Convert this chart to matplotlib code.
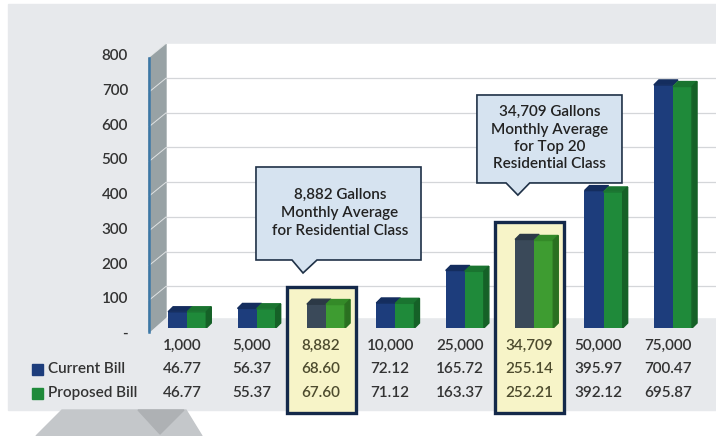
import numpy as np
import matplotlib.pyplot as plt
from matplotlib.patches import Rectangle, Polygon
from matplotlib.transforms import offset_copy

plt.rcParams["font.family"] = ["Lato", "DejaVu Sans"]
plt.rcParams["font.weight"] = "semibold"

# usage tiers (gallons) and monthly bills
gallons = ["1,000", "5,000", "8,882", "10,000", "25,000", "34,709", "50,000", "75,000"]
current_bill = [46.77, 56.37, 68.60, 72.12, 165.72, 255.14, 395.97, 700.47]
proposed_bill = [46.77, 55.37, 67.60, 71.12, 163.37, 252.21, 392.12, 695.87]
y_ticks = [0, 100, 200, 300, 400, 500, 600, 700, 800]
y_tick_labels = ["-", "100", "200", "300", "400", "500", "600", "700", "800"]
highlight = [2, 5]
callout_1 = "8,882 Gallons\nMonthly Average\nfor Residential Class"
callout_2 = "34,709 Gallons\nMonthly Average\nfor Top 20\nResidential Class"

W, H = 716, 436
fig = plt.figure(figsize=(W / 100, H / 100), dpi=100)
fig.patch.set_facecolor("white")

# background layer in pixel coordinates
bg = fig.add_axes([0, 0, 1, 1], zorder=0)
bg.set_xlim(0, W)
bg.set_ylim(H, 0)
bg.axis("off")
bg.add_patch(Rectangle((8, 4), W - 8, 406, color="#e7e9ec"))
bg.add_patch(Rectangle((166, 44), W - 166, 273, color="white"))
bg.add_patch(Polygon([(149, 58), (166, 44), (166, 317), (149, 332)], color="#98a2a5"))
bg.add_patch(Polygon([(36, 436), (62, 410), (186, 410), (202, 436)], color="#c4c7ca"))
bg.add_patch(Polygon([(138, 410), (184, 410), (160, 434)], color="#aeb1b4"))

# chart axes: x in category units, y in bill dollars
ax = fig.add_axes([148 / W, (H - 328) / H, (W - 148) / W, 277.6 / H], zorder=1)
ax.patch.set_alpha(0)
ax.set_xlim(-0.49, 7.695)
ax.set_ylim(0, 800)
ax.axis("off")

x = np.arange(len(gallons))
cur = np.array(current_bill)
prop = np.array(proposed_bill)

# back wall gridlines sit a few pixels above the front plane
grid_tr = offset_copy(ax.transData, fig, x=0, y=7, units="dots")
ax.hlines(y_ticks[1:], -0.23, 7.7, colors="#d4d6d9", lw=0.9, transform=grid_tr, zorder=0.2)

# side wall lines and axis edge
for v in y_ticks[1:]:
    ax.plot([-0.476, -0.23], [v - 20, v + 20], color="white", lw=0.7, alpha=0.7,
            clip_on=False, zorder=0.35)
ax.plot([-0.476, -0.476], [-11.5, 778], color="#3b78a8", lw=1.8, clip_on=False, zorder=0.4)

# highlighted columns
for i in highlight:
    top = 118 if i == 2 else 305
    ax.add_patch(Rectangle((i - 0.49, -245), 1.0, top + 245, facecolor="#f7f4c8",
                           edgecolor="#14294a", lw=2.4, clip_on=False, zorder=0.5))

# pseudo-3D bars
bw = 0.275
dx, dy = 0.072, 14.4
blue = ["#1d3d7c", "#142d5e"]
green = ["#1f8a3a", "#1a7430", "#156127"]
blue_hl = ["#3a4959", "#2c3946"]
green_hl = ["#3e9c31", "#348a28", "#2a7020"]
for i in x:
    b = blue_hl if i in highlight else blue
    g = green_hl if i in highlight else green
    bl, br = i - 0.2, i - 0.2 + bw
    gl, gr = br, br + bw
    ax.bar(bl, cur[i], width=bw, align="edge", color=b[0], zorder=2)
    ax.add_patch(Polygon([(bl, cur[i]), (bl + dx, cur[i] + dy), (br + dx, cur[i] + dy), (br, cur[i])],
                         color=b[1], zorder=2))
    ax.bar(gl, prop[i], width=bw, align="edge", color=g[0], zorder=2.1)
    ax.add_patch(Polygon([(gl, prop[i]), (gl + dx, prop[i] + dy), (gr + dx, prop[i] + dy), (gr, prop[i])],
                         color=g[1], zorder=2.1))
    ax.add_patch(Polygon([(gr, 0), (gr + dx, dy), (gr + dx, prop[i] + dy), (gr, prop[i])],
                         color=g[2], zorder=2.1))

# y tick labels
lab_tr = offset_copy(ax.transData, fig, x=0, y=-6, units="dots")
for v, s in zip(y_ticks, y_tick_labels):
    ax.text(-0.778, v, s, ha="right", va="center", fontsize=11, color="#333333",
            transform=lab_tr, clip_on=False)

# data table
rows = [(-51.9, gallons),
        (-118.7, ["%.2f" % v for v in current_bill]),
        (-187.9, ["%.2f" % v for v in proposed_bill])]
for ry, vals in rows:
    for i, s in enumerate(vals):
        col = "#4d4b2e" if i in highlight else "#333333"
        ax.text(i, ry, s, ha="center", va="center", fontsize=11, color=col, zorder=3, clip_on=False)
for ry, name, c in [(-118.7, "Current Bill", blue[0]), (-187.9, "Proposed Bill", green[0])]:
    ax.add_patch(Rectangle((-2.16, ry - 15.5), 0.16, 31, color=c, clip_on=False, zorder=3))
    ax.text(-1.93, ry, name, ha="left", va="center", fontsize=11, color="#333333", clip_on=False)

# callouts
box_kw = dict(closed=True, facecolor="#d6e3f0", edgecolor="#1f3147", lw=1.2, clip_on=False, zorder=4)
ax.add_patch(Polygon([(1.066, 464), (3.444, 464), (3.444, 196), (1.945, 196), (1.744, 158.5),
                      (1.585, 196), (1.066, 196)], **box_kw))
ax.text(2.277, 332, callout_1, ha="center", va="center", fontsize=11, color="#222222",
        linespacing=1.35, zorder=5)
ax.add_patch(Polygon([(4.25, 671.5), (6.34, 671.5), (6.34, 418), (5.01, 418), (4.84, 383),
                      (4.67, 418), (4.25, 418)], **box_kw))
ax.text(5.30, 547, callout_2, ha="center", va="center", fontsize=11, color="#222222",
        linespacing=1.3, zorder=5)

fig.savefig("out.png", dpi=100)
